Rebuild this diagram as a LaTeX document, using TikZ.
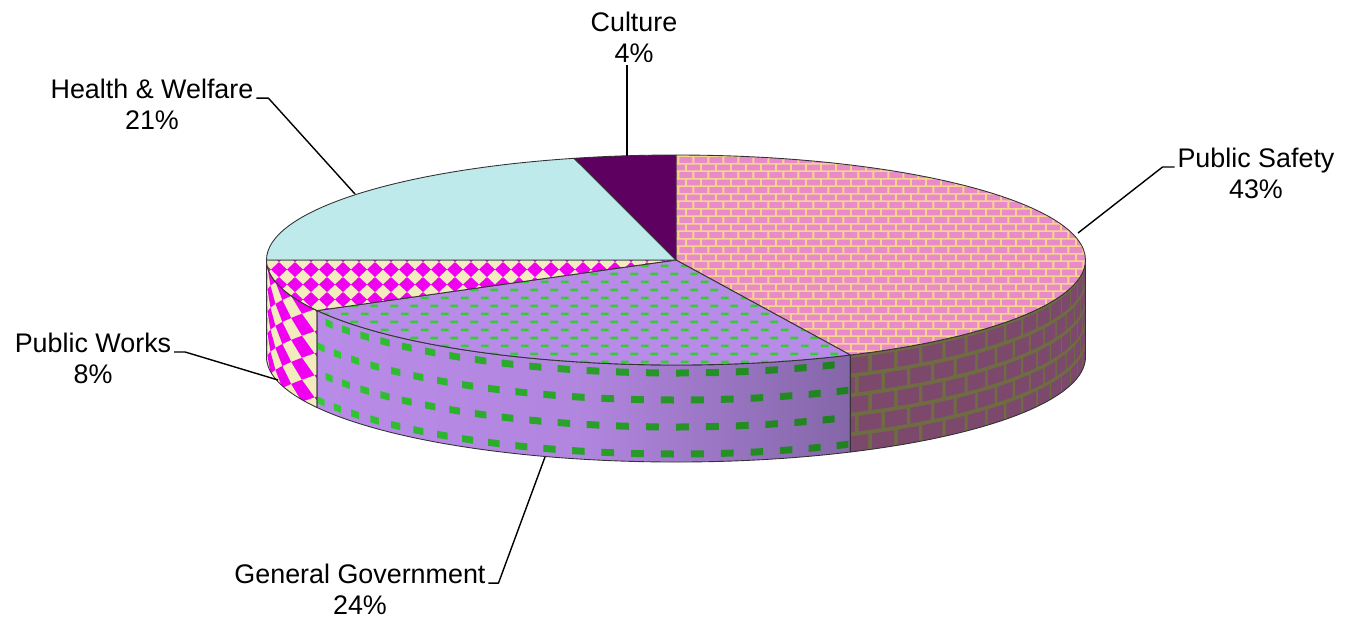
\documentclass[tikz,border=0pt]{standalone}
\usepackage{fontspec}
\setmainfont{Liberation Sans}
\usetikzlibrary{calc,patterns}

\definecolor{psPink}{HTML}{E98BC9}
\definecolor{psMortar}{HTML}{F7D48C}
\definecolor{psSideBrick}{HTML}{7C486C}
\definecolor{psSideMortar}{HTML}{6F6B42}
\definecolor{ggLilac}{HTML}{B98BE8}
\definecolor{ggDark}{HTML}{8466A8}
\definecolor{ggGreen}{HTML}{33CC33}
\definecolor{pwMagenta}{HTML}{F000F0}
\definecolor{pwCream}{HTML}{F1EBBE}
\definecolor{hwCyan}{HTML}{BEEAEC}
\definecolor{culPlum}{HTML}{5E0060}
\definecolor{edgeGray}{HTML}{333333}
\colorlet{ggMid}{ggLilac!85!ggDark}

% pie size (reference pixels): x radius 409.5, y radius 105
\newcommand{\pieRx}{409.5}
\newcommand{\pieRy}{105}
\newcommand{\pieDp}{97}

% textures of the top faces
\pgfdeclarepatternformonly{topbricks}{\pgfpointorigin}{\pgfpoint{8.5pt}{8.5pt}}{\pgfpoint{8.5pt}{8.5pt}}{%
  \pgfpathrectangle{\pgfpoint{0pt}{0.9pt}}{\pgfpoint{7.3pt}{3.3pt}}%
  \pgfpathrectangle{\pgfpoint{4.25pt}{5.15pt}}{\pgfpoint{7.3pt}{3.3pt}}%
  \pgfpathrectangle{\pgfpoint{-4.25pt}{5.15pt}}{\pgfpoint{7.3pt}{3.3pt}}%
  \pgfusepath{fill}}
\pgfdeclarepatternformonly{topdash}{\pgfpointorigin}{\pgfpoint{11.4pt}{9.1pt}}{\pgfpoint{11.4pt}{9.1pt}}{%
  \pgfpathrectangle{\pgfpoint{0.5pt}{1pt}}{\pgfpoint{4.6pt}{1.5pt}}%
  \pgfpathrectangle{\pgfpoint{6.2pt}{5.55pt}}{\pgfpoint{4.6pt}{1.5pt}}%
  \pgfusepath{fill}}
\pgfdeclarepatternformonly{topdiamond}{\pgfpointorigin}{\pgfpoint{9.1pt}{8.5pt}}{\pgfpoint{9.1pt}{8.5pt}}{%
  \pgfpathmoveto{\pgfpoint{0pt}{4.25pt}}%
  \pgfpathlineto{\pgfpoint{4.55pt}{8.5pt}}%
  \pgfpathlineto{\pgfpoint{9.1pt}{4.25pt}}%
  \pgfpathlineto{\pgfpoint{4.55pt}{0pt}}%
  \pgfpathclose
  \pgfusepath{fill}}

\begin{document}
\begin{tikzpicture}[x=0.02cm,y=0.02cm,line join=round,
  edge/.style={draw=edgeGray, line width=0.5pt},
  leader/.style={draw=black, line width=0.8pt},
  lbl/.style={align=center, inner sep=1.5pt, font=\fontsize{15.3pt}{17.6pt}\selectfont}]
\useasboundingbox (-676,-360) rectangle (669,260);

% side: Public Works
\begin{scope}
  \clip (-180:409.5 and 105) arc[start angle=-180, end angle=-151.2, x radius=\pieRx, y radius=\pieRy] -- ++(0,-\pieDp) arc[start angle=-151.2, end angle=-180, x radius=\pieRx, y radius=\pieRy] -- cycle;
  \fill[pwCream] (-420,-260) rectangle (-330,10);
  \foreach \i in {0,...,4}{
    \foreach \j in {0,...,5}{
      \pgfmathsetmacro\tc{-180+8*\i}
      \pgfmathsetmacro\yc{-22*\j}
      \fill[pwMagenta] ($(\tc-4:409.5 and 105)+(0,\yc)$) -- ($(\tc:409.5 and 105)+(0,\yc+11)$) -- ($(\tc+4:409.5 and 105)+(0,\yc)$) -- ($(\tc:409.5 and 105)+(0,\yc-11)$) -- cycle;
    }
  }
\end{scope}
\draw[edge] (-180:409.5 and 105) arc[start angle=-180, end angle=-151.2, x radius=\pieRx, y radius=\pieRy] -- ++(0,-\pieDp) arc[start angle=-151.2, end angle=-180, x radius=\pieRx, y radius=\pieRy] -- cycle;

% side: General Government
\begin{scope}
  \clip (-151.2:409.5 and 105) arc[start angle=-151.2, end angle=-64.8, x radius=\pieRx, y radius=\pieRy] -- ++(0,-\pieDp) arc[start angle=-64.8, end angle=-151.2, x radius=\pieRx, y radius=\pieRy] -- cycle;
  \shade[left color=ggLilac, right color=ggDark, middle color=ggMid] (-359,-260) rectangle (175,0);
  \foreach \r in {0,...,3}{
    \foreach \k in {0,...,21}{
      \pgfmathsetmacro\ta{-153+2.1*mod(\r,2)+4.2*\k}
      \pgfmathsetmacro\tb{\ta+1.8}
      \pgfmathsetmacro\yt{-4.5-27*\r}
      \pgfmathtruncatemacro\gm{100-38*\k/21}
      \fill[ggGreen!\gm!black] ($(\ta:409.5 and 105)+(0,\yt)$) arc[start angle=\ta, end angle=\tb, x radius=\pieRx, y radius=\pieRy] -- ++(0,-7) arc[start angle=\tb, end angle=\ta, x radius=\pieRx, y radius=\pieRy] -- cycle;
    }
  }
\end{scope}
\draw[edge] (-151.2:409.5 and 105) arc[start angle=-151.2, end angle=-64.8, x radius=\pieRx, y radius=\pieRy] -- ++(0,-\pieDp) arc[start angle=-64.8, end angle=-151.2, x radius=\pieRx, y radius=\pieRy] -- cycle;

% side: Public Safety
\begin{scope}
  \clip (-64.8:409.5 and 105) arc[start angle=-64.8, end angle=0, x radius=\pieRx, y radius=\pieRy] -- ++(0,-\pieDp) arc[start angle=0, end angle=-64.8, x radius=\pieRx, y radius=\pieRy] -- cycle;
  \fill[psSideMortar] (160,-260) rectangle (420,10);
  \foreach \r in {0,...,4}{
    \foreach \k in {0,...,16}{
      \pgfmathsetmacro\ta{1-2.1*mod(\r,2)-4.2*\k}
      \pgfmathsetmacro\tb{\ta-3.6}
      \pgfmathsetmacro\yt{-3-19.6*\r}
      \fill[psSideBrick] ($(\ta:409.5 and 105)+(0,\yt)$) arc[start angle=\ta, end angle=\tb, x radius=\pieRx, y radius=\pieRy] -- ++(0,-15.5) arc[start angle=\tb, end angle=\ta, x radius=\pieRx, y radius=\pieRy] -- cycle;
    }
  }
\end{scope}
\draw[edge] (-64.8:409.5 and 105) arc[start angle=-64.8, end angle=0, x radius=\pieRx, y radius=\pieRy] -- ++(0,-\pieDp) arc[start angle=0, end angle=-64.8, x radius=\pieRx, y radius=\pieRy] -- cycle;

% top faces
\path[edge, preaction={fill=psMortar}, pattern=topbricks, pattern color=psPink] (0,0) -- (90:409.5 and 105) arc[start angle=90, end angle=-64.8, x radius=\pieRx, y radius=\pieRy] -- cycle;
\path[edge, preaction={fill=ggLilac}, pattern=topdash, pattern color=ggGreen] (0,0) -- (-64.8:409.5 and 105) arc[start angle=-64.8, end angle=-151.2, x radius=\pieRx, y radius=\pieRy] -- cycle;
\path[edge, preaction={fill=pwCream}, pattern=topdiamond, pattern color=pwMagenta] (0,0) -- (-151.2:409.5 and 105) arc[start angle=-151.2, end angle=-180, x radius=\pieRx, y radius=\pieRy] -- cycle;
\path[edge, fill=hwCyan] (0,0) -- (180:409.5 and 105) arc[start angle=180, end angle=104.4, x radius=\pieRx, y radius=\pieRy] -- cycle;
\path[edge, fill=culPlum] (0,0) -- (104.4:409.5 and 105) arc[start angle=104.4, end angle=90, x radius=\pieRx, y radius=\pieRy] -- cycle;

% labels
\node[lbl] (cul) at (-42,223) {Culture\\4\%};
\node[lbl] (hw) at (-524,156) {Health \& Welfare\\21\%};
\node[lbl] (ps) at (580,87) {Public Safety\\43\%};
\node[lbl] (pw) at (-583,-98) {Public Works\\8\%};
\node[lbl] (gg) at (-316,-329) {General Government\\24\%};

\coordinate (culEnd) at (-49,104);
\coordinate (hwEnd) at (-321,66);
\coordinate (psEnd) at (402,27);
\coordinate (pwEnd) at (-398,-120);
\coordinate (ggEnd) at (-131,-197);

% leader lines
\draw[leader] (cul.south -| culEnd) -- (culEnd);
\draw[leader] ([yshift=-12.7pt]hw.north east) -- ++(12,0) -- (hwEnd);
\draw[leader] ([yshift=-12.7pt]ps.north west) -- ++(-12,0) -- (psEnd);
\draw[leader] ([yshift=-12.7pt]pw.north east) -- ++(11,0) -- (pwEnd);
\draw[leader] ([yshift=-12.7pt]gg.north east) -- ++(10,0) -- (ggEnd);
\end{tikzpicture}
\end{document}
